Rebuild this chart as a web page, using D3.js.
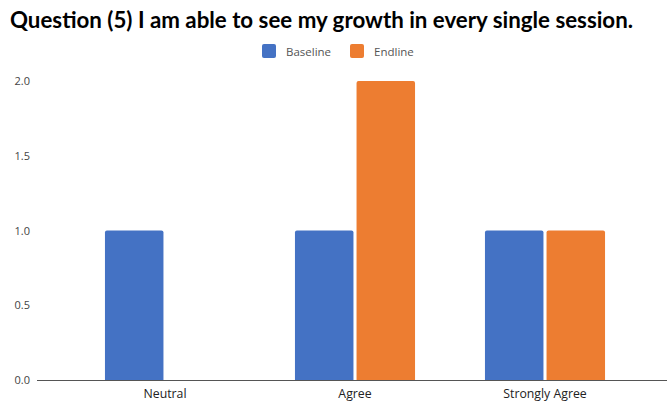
<!DOCTYPE html>
<html>
<head>
<meta charset="utf-8">
<script src="https://cdn.jsdelivr.net/npm/d3@7"></script>
<style>
  html, body { margin: 0; padding: 0; background: #fff; }
  svg { display: block; }
</style>
</head>
<body>
<svg id="chart" width="667" height="404"></svg>
<script>
const categories = ["Neutral", "Agree", "Strongly Agree"];
const seriesNames = ["Baseline", "Endline"];
const baseline = [1, 1, 1];
const endline = [0, 2, 1];
const yTicks = [0, 0.5, 1.0, 1.5, 2.0];
const colors = ["#4472C4", "#ED7D31"];

const W = 667, H = 404;
const svg = d3.select("#chart");
const titleFont = "Lato, 'Open Sans', 'DejaVu Sans', sans-serif";
const labelFont = "'Open Sans', 'Noto Sans', 'DejaVu Sans', sans-serif";

const plotLeft = 37, plotRight = 667, plotTop = 81, plotBottom = 380;

const x = d3.scaleBand().domain(categories).range([70, 640])
  .paddingInner(0.368).paddingOuter(0.184);
const xs = d3.scaleBand().domain(seriesNames).range([0, x.bandwidth()]).paddingInner(0.05);
const y = d3.scaleLinear().domain([0, 2]).range([plotBottom, plotTop]);

// title
svg.append("text")
  .attr("x", 10).attr("y", 28)
  .attr("font-family", titleFont).attr("font-weight", "bold")
  .attr("font-size", 22.3).attr("fill", "#000")
  .text("Question (5) I am able to see my growth in every single session.");

// legend
const legend = svg.append("g").attr("font-family", labelFont).attr("font-size", 11.5).attr("fill", "#555");
const legendPos = [262, 350];
seriesNames.forEach((name, i) => {
  legend.append("rect").attr("x", legendPos[i]).attr("y", 44).attr("width", 14).attr("height", 14)
    .attr("rx", 2).attr("fill", colors[i]);
  legend.append("text").attr("x", legendPos[i] + 24).attr("y", 56).attr("fill", "#555").text(name);
});

// gridlines and y labels
const yAxis = d3.axisLeft(y).tickValues(yTicks).tickSize(plotLeft - plotRight).tickFormat(d3.format(".1f"));
const gy = svg.append("g").attr("transform", `translate(${plotLeft},0)`).call(yAxis);
gy.select(".domain").remove();
gy.selectAll(".tick line").attr("stroke", "#d0d0d0").attr("stroke-width", 1)
  .attr("transform", `translate(${plotRight - plotLeft},0)`);
gy.selectAll(".tick text").attr("x", -7).attr("font-family", labelFont).attr("font-size", 11).attr("fill", "#444");

// bars
const data = categories.map((c, i) => ({ cat: c, values: [baseline[i], endline[i]] }));
const groups = svg.append("g").selectAll("g").data(data).join("g")
  .attr("transform", d => `translate(${x(d.cat)},0)`);
groups.selectAll("path").data(d => d.values.map((v, j) => ({ v, j }))).join("path")
  .filter(d => d.v > 0)
  .attr("fill", d => colors[d.j])
  .attr("d", d => {
    const x0 = xs(seriesNames[d.j]), w = xs.bandwidth();
    const yt = y(d.v), yb = y(0), r = 2;
    return `M${x0},${yb}V${yt + r}Q${x0},${yt} ${x0 + r},${yt}H${x0 + w - r}Q${x0 + w},${yt} ${x0 + w},${yt + r}V${yb}Z`;
  });

// baseline axis
svg.append("line").attr("x1", plotLeft).attr("x2", plotRight)
  .attr("y1", plotBottom + 0.5).attr("y2", plotBottom + 0.5)
  .attr("stroke", "#555").attr("stroke-width", 1);

// category labels
const xAxis = d3.axisBottom(x).tickSize(0).tickPadding(9);
const gx = svg.append("g").attr("transform", `translate(0,${plotBottom})`).call(xAxis);
gx.select(".domain").remove();
gx.selectAll(".tick text").attr("font-family", labelFont).attr("font-size", 12.3).attr("fill", "#222");
</script>
</body>
</html>
